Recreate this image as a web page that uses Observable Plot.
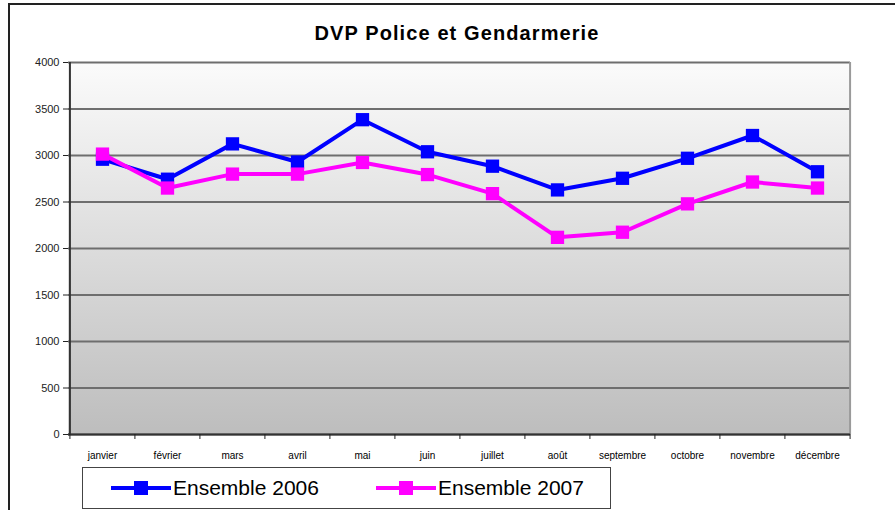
<!DOCTYPE html>
<html><head><meta charset="utf-8">
<script src="https://cdn.jsdelivr.net/npm/d3@7"></script>
<script src="https://cdn.jsdelivr.net/npm/@observablehq/plot@0.6"></script>
<style>
body{margin:0;background:#fff;font-family:"Liberation Sans",Arial,sans-serif;}
#wrap{position:relative;width:895px;height:510px;overflow:hidden;background:#fff;}
#frame{position:absolute;left:8px;top:3px;width:900px;height:520px;border-left:2px solid #222;border-top:2px solid #222;}
#chart{position:absolute;left:0;top:0;}
#title{position:absolute;left:0;width:914px;top:22px;text-align:center;font-weight:bold;font-size:20px;letter-spacing:1.1px;color:#000;}
#legend{position:absolute;left:82px;top:467px;width:527px;height:40px;border:1px solid #444;background:#fff;}
.item{position:absolute;top:0;height:40px;display:flex;align-items:center;font-size:21px;color:#000;}
.item svg{margin-right:2px;}
</style></head>
<body>
<div id="wrap"><div id="frame"></div><div id="chart"></div><div id="title">DVP Police et Gendarmerie</div><div id="legend"></div></div>
<script>
const months = ["janvier","février","mars","avril","mai","juin","juillet","août","septembre","octobre","novembre","décembre"];
const ensemble2006 = [2960, 2745, 3125, 2930, 3385, 3040, 2885, 2630, 2755, 2970, 3215, 2825];
const ensemble2007 = [3015, 2650, 2800, 2800, 2925, 2795, 2590, 2120, 2175, 2480, 2715, 2650];
const yTicks = [0, 500, 1000, 1500, 2000, 2500, 3000, 3500, 4000];
const seriesNames = ["Ensemble 2006", "Ensemble 2007"];
const seriesColors = ["#0000ff", "#ff00ff"];

const W = 895, H = 510, mL = 68, mR = 45, mT = 62, mB = 76;
const step = (W - mL - mR) / months.length;

const data = months.flatMap((m, i) => [
  {month: m, value: ensemble2006[i], series: seriesNames[0]},
  {month: m, value: ensemble2007[i], series: seriesNames[1]}
]);

const gradient = () => {
  const defs = d3.create("svg:defs");
  const g = defs.append("linearGradient").attr("id", "bg")
    .attr("x1", 0).attr("y1", 0).attr("x2", 0).attr("y2", 1);
  g.append("stop").attr("offset", "0%").attr("stop-color", "#fbfbfb");
  g.append("stop").attr("offset", "100%").attr("stop-color", "#bdbdbd");
  return defs.node();
};

const seriesMarks = seriesNames.flatMap(s => [
  Plot.line(data.filter(d => d.series === s), {x: "month", y: "value", stroke: "series", strokeWidth: 4}),
  Plot.dot(data.filter(d => d.series === s), {x: "month", y: "value", symbol: "square", r: 7.5, fill: "series", stroke: null})
]);

const chart = Plot.plot({
  width: W, height: H,
  marginLeft: mL, marginRight: mR, marginTop: mT, marginBottom: mB,
  style: {background: "transparent", fontFamily: "Liberation Sans, Arial, sans-serif", overflow: "visible", color: "#000"},
  x: {type: "point", domain: months, padding: 0.5, label: null},
  y: {domain: [0, 4000], label: null},
  color: {domain: seriesNames, range: seriesColors},
  marks: [
    gradient,
    Plot.frame({fill: "url(#bg)", stroke: null}),
    Plot.gridY(yTicks, {stroke: "#6e6e6e", strokeOpacity: 1, strokeWidth: 2}),
    Plot.ruleX([months[months.length - 1]], {dx: step / 2, stroke: "#9a9a9a", strokeWidth: 2}),
    Plot.ruleX([months[0]], {dx: -step / 2, stroke: "#333", strokeWidth: 2}),
    Plot.ruleY([0], {stroke: "#333", strokeWidth: 2}),
    Plot.axisY(yTicks, {tickSize: 5, tickPadding: 4, fontSize: 11, color: "#222", label: null, tickFormat: d => String(d)}),
    Plot.axisX(months, {tickSize: 5, dx: -step / 2, tickFormat: () => "", color: "#222", label: null}),
    Plot.axisX([months[months.length - 1]], {tickSize: 5, dx: step / 2, tickFormat: () => "", color: "#222", label: null}),
    Plot.axisX(months, {tickSize: 0, tickPadding: 17, fontSize: 10, color: "#000", label: null}),
    ...seriesMarks
  ]
});
document.getElementById("chart").append(chart);

const legend = document.getElementById("legend");
const itemLeft = [28, 293];
seriesNames.forEach((s, i) => {
  const div = document.createElement("div");
  div.className = "item";
  div.style.left = itemLeft[i] + "px";
  div.innerHTML = `<svg width="60" height="20"><line x1="0" x2="60" y1="10" y2="10" stroke="${seriesColors[i]}" stroke-width="4"/><rect x="23" y="3" width="14" height="14" fill="${seriesColors[i]}"/></svg><span>${s}</span>`;
  legend.append(div);
});
</script>
</body></html>
